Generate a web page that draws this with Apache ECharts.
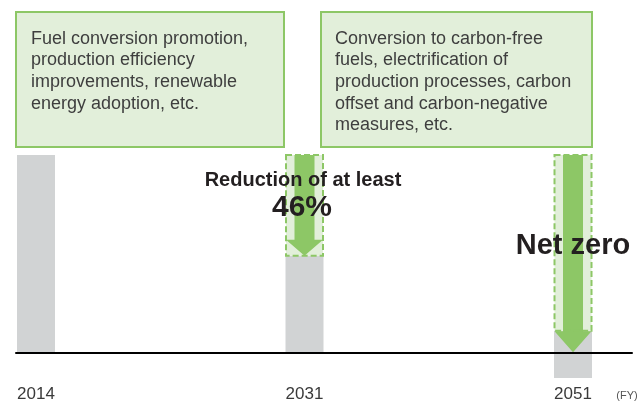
<!DOCTYPE html>
<html>
<head>
<meta charset="utf-8">
<script src="https://cdn.jsdelivr.net/npm/echarts@6/dist/echarts.min.js"></script>
<style>html,body{margin:0;padding:0;background:#fff}#c{width:640px;height:404px}</style>
</head>
<body>
<div id="c"></div>
<script>
// ---- data ----
var years = ['2014', '2031', '2051'];
var emissions = [100, 49, 11];      // gray bar top (index, 2014 = 100)
var offsets = [0, 0, -13];          // part of gray bar below zero (carbon-negative)
var reductionFrom = [null, 100, 100];
var reductionTo = [null, 49, 11];
var arrowTip = [null, 49, 0];
var boxTexts = [
  'Fuel conversion promotion,\nproduction efficiency\nimprovements, renewable\nenergy adoption, etc.',
  'Conversion to carbon-free\nfuels, electrification of\nproduction processes, carbon\noffset and carbon-negative\nmeasures, etc.'
];
var reductionLabel = 'Reduction of at least';
var reductionValue = '46%';
var netZeroLabel = 'Net zero';
var unitLabel = '(FY)';

// ---- styles ----
var FONT = '"Liberation Sans", Arial, Helvetica, sans-serif';
var GRAY = '#d1d3d4';
var GREEN = '#8dc766';
var LIGHT = '#e2efda';
var BAR_W = 38;
var SHAFT_W = 20;
var HEAD_LEN = [0, 16, 21];
var LABEL_OFFSET = 42;

var chart = echarts.init(document.getElementById('c'), null, {renderer: 'canvas'});

var barData = years.map(function (y, i) { return [i, offsets[i], emissions[i]]; });
var labelData = years.map(function (y, i) { return [i, 0]; });
var redData = [];
years.forEach(function (y, i) {
  if (reductionFrom[i] != null) redData.push([i, reductionTo[i], reductionFrom[i], arrowTip[i]]);
});

var option = {
  backgroundColor: '#fff',
  animation: false,
  grid: {left: 16, right: 8, top: 155, bottom: 12.2, outerBoundsMode: 'none', containLabel: false},
  xAxis: {
    type: 'value', min: -0.0745, max: 2.2197, z: 10,
    splitLine: {show: false},
    axisTick: {show: false},
    axisLabel: {show: false},
    axisLine: {show: true, onZero: true, lineStyle: {color: '#000', width: 2}}
  },
  yAxis: {type: 'value', min: -20, max: 100, show: false, splitLine: {show: false}},
  series: [
    {
      type: 'custom', z: 2,
      data: barData,
      encode: {x: 0, y: [1, 2]},
      renderItem: function (params, api) {
        var x = api.value(0);
        var lo = api.coord([x, api.value(1)]);
        var hi = api.coord([x, api.value(2)]);
        return {
          type: 'rect',
          shape: {x: hi[0] - BAR_W / 2, y: hi[1], width: BAR_W, height: lo[1] - hi[1]},
          style: {fill: GRAY}
        };
      }
    },
    {
      type: 'custom', z: 4,
      data: labelData,
      encode: {x: 0, y: 1},
      renderItem: function (params, api) {
        var i = api.value(0);
        var p = api.coord([i, api.value(1)]);
        return {
          type: 'text',
          x: p[0], y: p[1] + LABEL_OFFSET,
          style: {text: years[params.dataIndex], font: '17px ' + FONT, fill: '#3a3a3a',
                  align: 'center', verticalAlign: 'middle'}
        };
      }
    },
    {
      type: 'custom', z: 3,
      data: redData,
      encode: {x: 0, y: [1, 2]},
      renderItem: function (params, api) {
        var x = api.value(0);
        var bot = api.coord([x, api.value(1)]);
        var top = api.coord([x, api.value(2)]);
        var tip = api.coord([x, api.value(3)]);
        var cx = top[0];
        var hl = HEAD_LEN[Math.round(x)];
        var bw = BAR_W - 1;
        return {
          type: 'group',
          children: [
            {type: 'rect', shape: {x: cx - bw / 2, y: top[1], width: bw, height: bot[1] - top[1]},
             style: {fill: LIGHT}},
            {type: 'polygon', shape: {points: [
              [cx - SHAFT_W / 2, top[1]], [cx + SHAFT_W / 2, top[1]],
              [cx + SHAFT_W / 2, tip[1] - hl], [cx + bw / 2, tip[1] - hl],
              [cx, tip[1]], [cx - bw / 2, tip[1] - hl], [cx - SHAFT_W / 2, tip[1] - hl]
            ]}, style: {fill: GREEN}},
            {type: 'rect', shape: {x: cx - bw / 2, y: top[1], width: bw, height: bot[1] - top[1]},
             style: {fill: null, stroke: GREEN, lineWidth: 2, lineDash: [6, 3]}}
          ]
        };
      }
    }
  ],
  graphic: [
    {type: 'rect', z: 5, shape: {x: 16, y: 12, width: 268, height: 135},
     style: {fill: LIGHT, stroke: GREEN, lineWidth: 2}},
    {type: 'text', z: 6, x: 31, y: 28,
     style: {text: boxTexts[0], font: '18px ' + FONT, fill: '#3e3e3e', lineHeight: 21.6, verticalAlign: 'top'}},
    {type: 'rect', z: 5, shape: {x: 321, y: 12, width: 271, height: 135},
     style: {fill: LIGHT, stroke: GREEN, lineWidth: 2}},
    {type: 'text', z: 6, x: 335, y: 28,
     style: {text: boxTexts[1], font: '18px ' + FONT, fill: '#3e3e3e', lineHeight: 21.6, verticalAlign: 'top'}},
    {type: 'text', z: 20, x: 303, y: 180,
     style: {text: reductionLabel, font: 'bold 20px ' + FONT, fill: '#231f20', align: 'center', verticalAlign: 'middle'}},
    {type: 'text', z: 20, x: 302, y: 208,
     style: {text: reductionValue, font: 'bold 30px ' + FONT, fill: '#231f20', align: 'center', verticalAlign: 'middle'}},
    {type: 'text', z: 20, x: 573, y: 246,
     style: {text: netZeroLabel, font: 'bold 29px ' + FONT, fill: '#231f20', align: 'center', verticalAlign: 'middle'}},
    {type: 'text', z: 20, x: 627, y: 396,
     style: {text: unitLabel, font: '11px ' + FONT, fill: '#555', align: 'center', verticalAlign: 'middle'}}
  ]
};
chart.setOption(option);
</script>
</body>
</html>
